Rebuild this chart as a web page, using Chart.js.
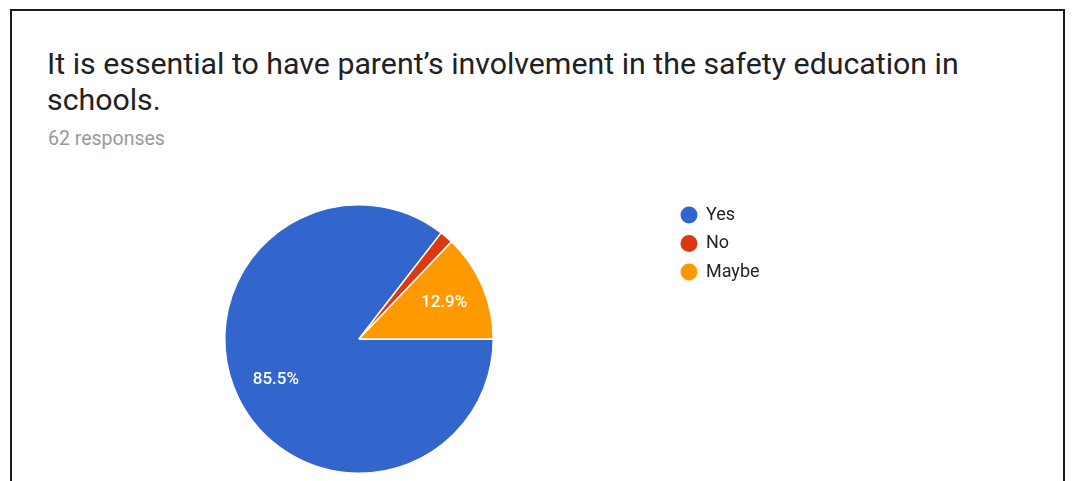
<!DOCTYPE html>
<html>
<head>
<meta charset="utf-8">
<script src="https://cdn.jsdelivr.net/npm/chart.js@4/dist/chart.umd.min.js"></script>
<style>
  html, body { margin: 0; padding: 0; background: #fff; }
  body { width: 1072px; height: 481px; position: relative; overflow: hidden; font-family: Roboto, Arial, sans-serif; }
  #frame { position: absolute; left: 10px; top: 9px; width: 1055px; height: 520px; border: 2px solid #1a1a1a; box-sizing: border-box; }
  #title { position: absolute; left: 47px; top: 46px; font-size: 30.3px; line-height: 36px; color: #202124; width: 1000px; }
  #sub { position: absolute; left: 48px; top: 127px; font-size: 19.5px; color: #9a9a9a; }
  #c { position: absolute; left: 0; top: 0; }
</style>
</head>
<body>
<div id="frame"></div>
<div id="title">It is essential to have parent’s involvement in the safety education in<br>schools.</div>
<div id="sub">62 responses</div>
<canvas id="c" width="1072" height="481"></canvas>
<script>
const categories = ['Yes', 'No', 'Maybe'];
const responses = [53, 1, 8];
const sliceColors = ['#3366cc', '#dc3912', '#ff9900'];

const total = responses.reduce((a, b) => a + b, 0);

// Percentage labels placed inside each slice (skipped for very thin slices)
const sliceLabels = {
  id: 'sliceLabels',
  afterDatasetsDraw(chart) {
    const ctx = chart.ctx;
    const meta = chart.getDatasetMeta(0);
    ctx.save();
    ctx.font = '500 17px Roboto, Arial, sans-serif';
    ctx.fillStyle = '#ffffff';
    ctx.textAlign = 'center';
    ctx.textBaseline = 'middle';
    meta.data.forEach((arc, i) => {
      const pct = responses[i] / total * 100;
      if (pct < 5) return;
      const mid = (arc.startAngle + arc.endAngle) / 2;
      const r = arc.outerRadius * 0.69;
      ctx.fillText(pct.toFixed(1) + '%', arc.x + Math.cos(mid) * r, arc.y + Math.sin(mid) * r);
    });
    ctx.restore();
  }
};

// Vertical legend to the right of the pie
const sideLegend = {
  id: 'sideLegend',
  afterDraw(chart) {
    const ctx = chart.ctx;
    ctx.save();
    ctx.font = '18px Roboto, Arial, sans-serif';
    ctx.textBaseline = 'middle';
    ctx.textAlign = 'left';
    chart.data.labels.forEach((lab, i) => {
      const y = 215 + i * 28.5;
      ctx.beginPath();
      ctx.arc(689, y, 8.5, 0, Math.PI * 2);
      ctx.fillStyle = sliceColors[i];
      ctx.fill();
      ctx.fillStyle = '#222222';
      ctx.fillText(lab, 706, y);
    });
    ctx.restore();
  }
};

new Chart(document.getElementById('c'), {
  type: 'pie',
  data: {
    labels: categories,
    datasets: [{
      data: responses,
      backgroundColor: sliceColors,
      borderColor: '#ffffff',
      borderWidth: 1.5
    }]
  },
  options: {
    responsive: false,
    animation: false,
    rotation: 90,
    layout: { padding: { left: 224, right: 578, top: 204, bottom: 7 } },
    plugins: {
      legend: { display: false },
      tooltip: { enabled: false }
    }
  },
  plugins: [sliceLabels, sideLegend]
});
</script>
</body>
</html>
